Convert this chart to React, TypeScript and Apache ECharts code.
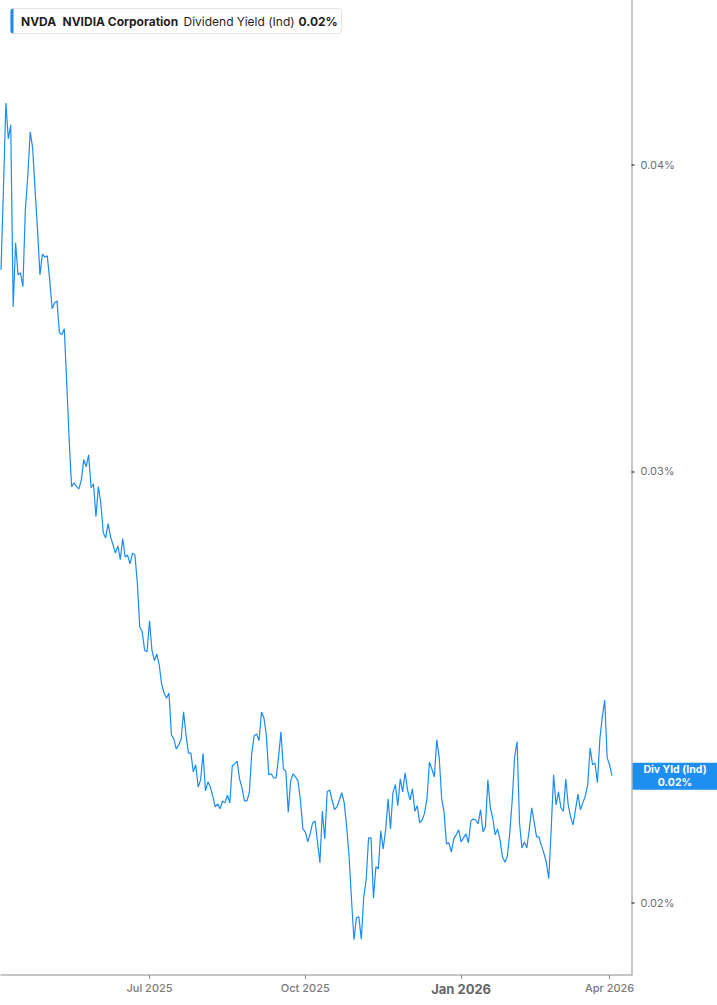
import React, { useEffect, useRef } from 'react';
import * as echarts from 'echarts';

// trading days start here; the axis runs a little past the last value
const START_DATE = '2025-04-02';
const DAY_COUNT = 260;
const holidays = [
  '2025-04-18', '2025-05-26', '2025-06-19', '2025-07-04', '2025-09-01', '2025-11-27',
  '2025-12-25', '2026-01-01', '2026-01-19', '2026-02-16', '2026-04-03',
];

// NVDA dividend yield (ind), in percent, one value per trading day
const yields = [
  0.03625, 0.03908, 0.04240, 0.04100, 0.04154, 0.03501, 0.03718, 0.03608, 0.03615, 0.03568, 0.03835, 0.03960,
  0.04127, 0.04065, 0.03908, 0.03764, 0.03608, 0.03679, 0.03669, 0.03673, 0.03592, 0.03495, 0.03514, 0.03521,
  0.03417, 0.03411, 0.03430, 0.03260, 0.03090, 0.02957, 0.02968, 0.02957, 0.02951, 0.02976, 0.03033, 0.03013,
  0.03047, 0.02954, 0.02965, 0.02875, 0.02957, 0.02912, 0.02832, 0.02818, 0.02856, 0.02821, 0.02800, 0.02778,
  0.02797, 0.02761, 0.02816, 0.02768, 0.02773, 0.02750, 0.02778, 0.02773, 0.02702, 0.02592, 0.02580, 0.02536,
  0.02532, 0.02607, 0.02536, 0.02511, 0.02527, 0.02501, 0.02455, 0.02436, 0.02424, 0.02436, 0.02342, 0.02333,
  0.02311, 0.02320, 0.02333, 0.02393, 0.02342, 0.02302, 0.02302, 0.02262, 0.02277, 0.02230, 0.02245, 0.02302,
  0.02222, 0.02241, 0.02230, 0.02211, 0.02189, 0.02195, 0.02185, 0.02201, 0.02197, 0.02213, 0.02197, 0.02275,
  0.02279, 0.02285, 0.02247, 0.02228, 0.02201, 0.02201, 0.02218, 0.02302, 0.02340, 0.02344, 0.02329, 0.02393,
  0.02380, 0.02342, 0.02256, 0.02258, 0.02249, 0.02249, 0.02292, 0.02349, 0.02268, 0.02264, 0.02178, 0.02243,
  0.02258, 0.02251, 0.02243, 0.02203, 0.02144, 0.02138, 0.02118, 0.02134, 0.02156, 0.02160, 0.02118, 0.02077,
  0.02180, 0.02124, 0.02220, 0.02224, 0.02203, 0.02183, 0.02189, 0.02203, 0.02218, 0.02197, 0.02148, 0.02088,
  0.02005, 0.01932, 0.01972, 0.01974, 0.01933, 0.02011, 0.02044, 0.02126, 0.02126, 0.02009, 0.02069, 0.02065,
  0.02140, 0.02104, 0.02142, 0.02205, 0.02144, 0.02218, 0.02235, 0.02191, 0.02247, 0.02220, 0.02260, 0.02224,
  0.02203, 0.02226, 0.02180, 0.02191, 0.02156, 0.02162, 0.02176, 0.02207, 0.02283, 0.02268, 0.02251, 0.02331,
  0.02294, 0.02207, 0.02178, 0.02114, 0.02116, 0.02098, 0.02124, 0.02132, 0.02142, 0.02118, 0.02126, 0.02134,
  0.02116, 0.02160, 0.02164, 0.02162, 0.02154, 0.02183, 0.02138, 0.02148, 0.02245, 0.02187, 0.02166, 0.02132,
  0.02144, 0.02122, 0.02088, 0.02078, 0.02090, 0.02136, 0.02203, 0.02294, 0.02327, 0.02156, 0.02106, 0.02118,
  0.02106, 0.02142, 0.02187, 0.02158, 0.02128, 0.02128, 0.02110, 0.02096, 0.02078, 0.02046, 0.02142, 0.02256,
  0.02193, 0.02220, 0.02187, 0.02180, 0.02247, 0.02193, 0.02168, 0.02152, 0.02183, 0.02215, 0.02183, 0.02197,
  0.02211, 0.02235, 0.02313, 0.02277, 0.02281, 0.02239, 0.02333, 0.02382, 0.02420, 0.02292, 0.02277, 0.02254,
];

const yTicks = [0.02, 0.03, 0.04];
const Y_MIN = 0.01869;
const Y_MAX = 0.04671;
const MONTHS = ['Jan', 'Feb', 'Mar', 'Apr', 'May', 'Jun', 'Jul', 'Aug', 'Sep', 'Oct', 'Nov', 'Dec'];

const BLUE = '#1b8cf5';
const FONT = 'Inter';

function buildDates() {
  const out: string[] = [];
  const d = new Date(START_DATE + 'T00:00:00Z');
  while (out.length < DAY_COUNT) {
    const s = d.toISOString().slice(0, 10);
    const wd = d.getUTCDay();
    if (wd !== 0 && wd !== 6 && !holidays.includes(s)) out.push(s);
    d.setUTCDate(d.getUTCDate() + 1);
  }
  return out;
}

const dates = buildDates();

// first trading day of Jan / Apr / Jul / Oct
const isQuarterStart = (i: number) => {
  if (i === 0) return false;
  const m = +dates[i].slice(5, 7);
  const pm = +dates[i - 1].slice(5, 7);
  return m !== pm && (m - 1) % 3 === 0;
};

const App = () => {
  const chartRef = useRef<any>(null);

  useEffect(() => {
    const chart = echarts.init(chartRef.current, null, { renderer: 'svg' });
    const logTicks = yTicks.map((v) => Math.log10(v));
    const last = yields[yields.length - 1];

    const option: any = {
      animation: false,
      backgroundColor: '#fff',
      grid: { left: 1, right: 85.5, top: 0, bottom: 30 },
      xAxis: {
        type: 'category',
        data: dates,
        boundaryGap: false,
        axisLine: { show: true, lineStyle: { color: '#b3b3b3', width: 1.5 } },
        axisTick: {
          show: true,
          interval: (i: number) => isQuarterStart(i),
          length: 4,
          lineStyle: { color: '#8a8a8a', width: 1 },
        },
        axisLabel: {
          interval: (i: number) => isQuarterStart(i),
          margin: 7,
          color: '#7a7a7a',
          fontSize: 11,
          fontWeight: 500,
          fontFamily: FONT,
          formatter: (v: string) => {
            const m = +v.slice(5, 7);
            const t = MONTHS[m - 1] + ' ' + v.slice(0, 4);
            return m === 1 ? `{b|${t}}` : t;
          },
          rich: {
            b: { fontSize: 13, fontWeight: 'bold', color: '#666', fontFamily: FONT },
          },
        },
        splitLine: { show: false },
      },
      yAxis: {
        type: 'value',
        position: 'right',
        min: Math.log10(Y_MIN),
        max: Math.log10(Y_MAX),
        splitLine: { show: false },
        axisLine: { show: true, lineStyle: { color: '#b3b3b3', width: 1.5 } },
        axisTick: {
          show: true,
          customValues: logTicks,
          length: 3,
          lineStyle: { color: '#555', width: 1.5 },
        },
        axisLabel: {
          customValues: logTicks,
          margin: 9,
          color: '#6e6e6e',
          fontSize: 11,
          fontFamily: FONT,
          formatter: (v: number) => Math.pow(10, v).toFixed(2) + '%',
        },
      },
      series: [
        {
          type: 'line',
          data: yields.map((v) => Math.log10(v)),
          showSymbol: false,
          symbol: 'none',
          lineStyle: { color: BLUE, width: 1.2 },
          itemStyle: { color: BLUE },
        },
      ],
    };

    chart.setOption(option);

    // last value tag on the right axis
    const pt = chart.convertToPixel({ seriesIndex: 0 }, [yields.length - 1, Math.log10(last)]);
    const tagY = pt[1];
    const lastText = last.toFixed(2) + '%';

    chart.setOption({
      graphic: [
        {
          type: 'group',
          left: 10,
          top: 8,
          children: [
            { type: 'rect', shape: { x: 0, y: 0, width: 331, height: 25, r: 3 }, style: { fill: '#fff', stroke: '#e2e2e2', lineWidth: 1 } },
            { type: 'rect', shape: { x: 0, y: 0, width: 3, height: 25, r: [3, 0, 0, 3] }, style: { fill: BLUE } },
            { type: 'text', x: 10.5, y: 12.5, style: { text: 'NVDA', fill: '#1f1f1f', font: `bold 12px ${FONT}`, verticalAlign: 'middle' } },
            { type: 'text', x: 52, y: 12.5, style: { text: 'NVIDIA Corporation', fill: '#1f1f1f', font: `bold 12px ${FONT}`, verticalAlign: 'middle' } },
            { type: 'text', x: 173, y: 12.5, style: { text: 'Dividend Yield (Ind)', fill: '#1f1f1f', font: `12px ${FONT}`, verticalAlign: 'middle' } },
            { type: 'text', x: 288, y: 12.5, style: { text: lastText, fill: '#1f1f1f', font: `bold 12px ${FONT}`, verticalAlign: 'middle' } },
          ],
        },
        {
          type: 'group',
          x: 632,
          y: tagY - 13,
          children: [
            { type: 'rect', shape: { x: 0, y: 0, width: 85, height: 27 }, style: { fill: '#1f8ef1' } },
            { type: 'text', x: 43, y: 7, style: { text: 'Div Yld (Ind)', fill: '#fff', font: `bold 10.5px ${FONT}`, align: 'center', verticalAlign: 'middle' } },
            { type: 'text', x: 43, y: 20, style: { text: lastText, fill: '#fff', font: `bold 10.5px ${FONT}`, align: 'center', verticalAlign: 'middle' } },
          ],
        },
      ],
    });

    return () => {
      chart.dispose();
    };
  }, []);

  return (
    <div style={{ position: 'absolute', left: 0, top: 0, width: 717, height: 1005, background: '#fff' }}>
      <div ref={chartRef} style={{ width: '717px', height: '1005px' }} />
    </div>
  );
};

export default App;
